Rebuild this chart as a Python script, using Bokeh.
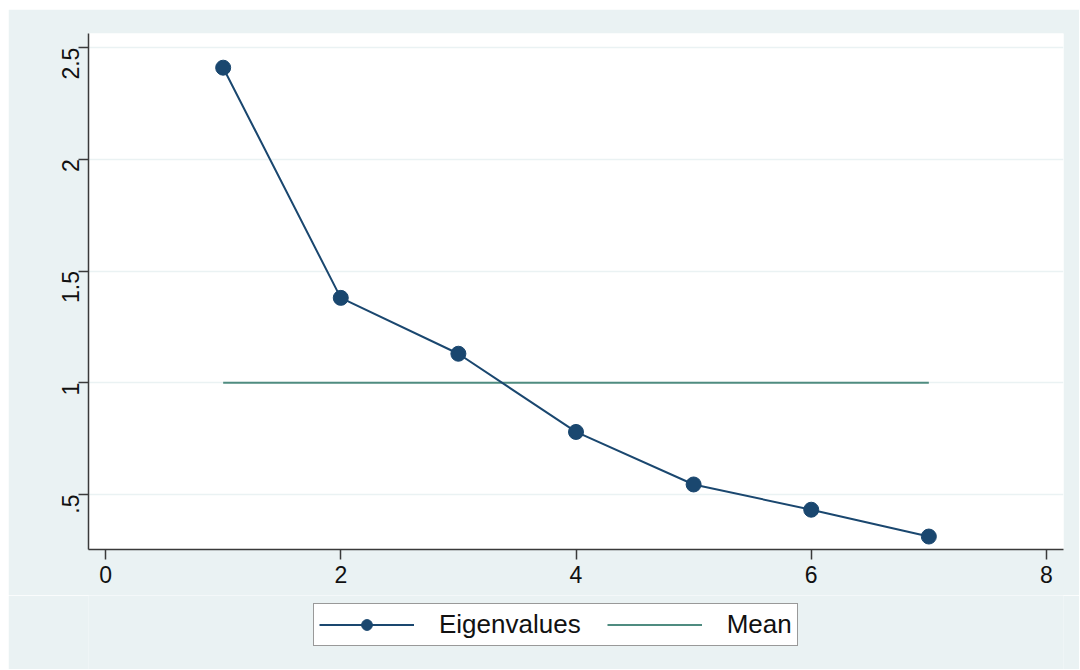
import math
from bokeh.plotting import figure
from bokeh.layouts import column
from bokeh.models import Range1d, FixedTicker, Legend, LegendItem
from bokeh.embed import file_html
from bokeh.resources import INLINE

# ---- data ----
components = [1, 2, 3, 4, 5, 6, 7]
eigenvalues = [2.41, 1.38, 1.13, 0.78, 0.545, 0.432, 0.312]
mean_x = [1, 7]
mean_value = 1.0

x_ticks = [0, 2, 4, 6, 8]
y_ticks = [0.5, 1.0, 1.5, 2.0, 2.5]
y_tick_labels = [".5", "1", "1.5", "2", "2.5"]

NAVY = "#1a476f"
TEAL = "#4f8c80"
BG = "#eaf2f3"
AXIS = "#3a3a3a"
FONT = "Liberation Sans"

X_RANGE = (-0.145, 8.145)

p = figure(width=1071, height=586, output_backend="svg", toolbar_location=None,
           x_range=Range1d(*X_RANGE), y_range=Range1d(0.254, 2.563),
           min_border_left=80, min_border_right=16, min_border_top=24,
           min_border_bottom=46)
p.border_fill_color = BG
p.background_fill_color = "white"
p.outline_line_color = None

# grid
p.xgrid.grid_line_color = None
p.ygrid.grid_line_color = BG
p.ygrid.grid_line_width = 1.5
p.ygrid.ticker = FixedTicker(ticks=y_ticks)

# axes
for ax in (p.xaxis[0], p.yaxis[0]):
    ax.axis_line_color = AXIS
    ax.axis_line_width = 1.5
    ax.major_tick_line_color = AXIS
    ax.major_tick_line_width = 1.5
    ax.major_tick_out = 10
    ax.major_tick_in = 0
    ax.minor_tick_line_color = None
    ax.major_label_text_font = FONT
    ax.major_label_text_font_size = "23px"
    ax.major_label_text_color = "#111111"

p.xaxis.ticker = FixedTicker(ticks=x_ticks)
p.xaxis.major_label_standoff = 6
p.yaxis.ticker = FixedTicker(ticks=y_ticks)
p.yaxis.major_label_overrides = {t: l for t, l in zip(y_ticks, y_tick_labels)}
p.yaxis.major_label_orientation = math.pi / 2
p.yaxis.major_label_standoff = 8

# series
p.line(mean_x, [mean_value, mean_value], line_color=TEAL, line_width=2)
p.line(components, eigenvalues, line_color=NAVY, line_width=2)
p.scatter(components, eigenvalues, size=15, fill_color=NAVY,
          line_color=NAVY, marker="circle")

# ---- legend strip below the chart (same series, drawn out of view) ----
q = figure(width=1071, height=74, output_backend="svg", toolbar_location=None,
           x_range=Range1d(*X_RANGE), y_range=Range1d(100, 101),
           x_axis_location=None, y_axis_location=None,
           min_border_left=0, min_border_right=0, min_border_top=0,
           min_border_bottom=0)
q.grid.visible = False
q.border_fill_color = BG
q.background_fill_color = BG
q.outline_line_color = None
qm = q.line(mean_x, [mean_value, mean_value], line_color=TEAL, line_width=2)
ql = q.line(components, eigenvalues, line_color=NAVY, line_width=2)
qs = q.scatter(components, eigenvalues, size=15, fill_color=NAVY,
               line_color=NAVY, marker="circle")

legend = Legend(items=[LegendItem(label="Eigenvalues", renderers=[ql, qs]),
                       LegendItem(label="Mean", renderers=[qm])],
                orientation="horizontal", location=(225, 23))
legend.background_fill_color = "white"
legend.background_fill_alpha = 1.0
legend.border_line_color = "#333333"
legend.border_line_width = 1.5
legend.label_text_font = FONT
legend.label_text_font_size = "26px"
legend.label_text_color = "#111111"
legend.glyph_width = 95
legend.glyph_height = 27
legend.label_height = 27
legend.label_standoff = 25
legend.spacing = 26
legend.padding = 5
legend.margin = 0
q.add_layout(legend, "center")

layout = column(p, q, spacing=0, margin=(9, 0, 0, 8))

open("out.html", "w").write(file_html(layout, INLINE))
